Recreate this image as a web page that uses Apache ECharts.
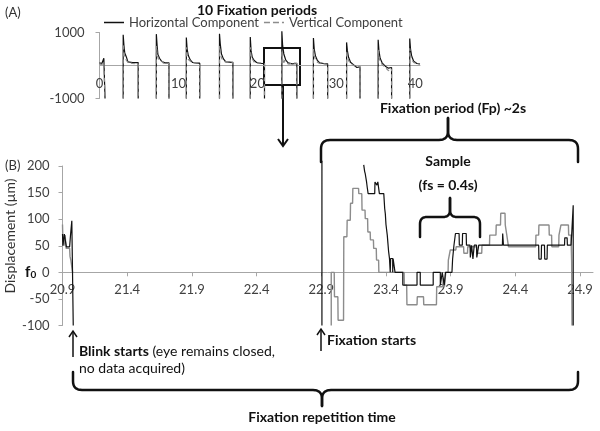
<!DOCTYPE html>
<html>
<head>
<meta charset="utf-8">
<script src="https://cdn.jsdelivr.net/npm/echarts@6/dist/echarts.min.js"></script>
<style>html,body{margin:0;padding:0;background:#fff}#c{width:600px;height:431px}</style>
</head>
<body>
<div id="c"></div>
<script>
// ---------- DATA ----------
var topXTicks = [0, 10, 20, 30, 40];
var topYTicks = [-1000, 1000];
var bottomXTicks = [20.9, 21.4, 21.9, 22.4, 22.9, 23.4, 23.9, 24.4, 24.9];
var bottomYTicks = [-100, -50, 0, 50, 100, 150, 200];
var seriesNames = ['Horizontal Component', 'Vertical Component'];

// Panel A: 10 fixation periods (null = no data acquired)
var topHorizontal = [
  [0, 80], [0.3, 60], [0.5, 70], [0.55, 220], [0.7, 220], [0.7, -1000], null,
  [3.0, -1000], [3.0, 930], [3.1, 600], [3.2, 380], [3.4, 260], [3.6, 110], [4.2, 90], [4.9, 90], [4.9, -1000], null,
  [7.2, -1000], [7.2, 950], [7.3, 600], [7.4, 330], [7.6, 220], [7.9, 120], [8.3, 80], [8.8, 80], [8.8, -1000], null,
  [11.0, -1000], [11.0, 850], [11.1, 500], [11.25, 300], [11.5, 170], [11.8, 90], [12.3, 70], [12.7, 70], [12.7, -1000], null,
  [15.2, -1000], [15.2, 960], [15.3, 650], [15.45, 350], [15.7, 200], [16.0, 110], [16.5, 100], [16.9, 90], [16.9, -1000], null,
  [19.1, -1000], [19.1, 860], [19.2, 450], [19.35, 250], [19.6, 150], [19.9, 90], [20.4, 60], [20.9, 60], [20.9, -1000], null,
  [23.1, -1000], [23.1, 1040], [23.2, 600], [23.35, 350], [23.6, 160], [23.9, 80], [24.4, 50], [25.0, 60], [25.0, -1000], null,
  [27.1, -1000], [27.1, 830], [27.2, 500], [27.35, 300], [27.6, 150], [27.9, 80], [28.4, 60], [28.9, 50], [28.9, -1000], null,
  [31.3, -1000], [31.3, 700], [31.4, 450], [31.55, 250], [31.8, 100], [32.2, 20], [32.6, -60], [33.0, -40], [33.0, -1000], null,
  [35.3, -1000], [35.3, 780], [35.4, 450], [35.55, 220], [35.8, 80], [36.2, -20], [36.6, -80], [37.0, -60], [37.0, -1000], null,
  [39.3, -1000], [39.3, 820], [39.4, 500], [39.55, 280], [39.8, 130], [40.2, 60], [40.6, 50]
];
var topVertical = [
  [0, 40], [0.3, 30], [0.45, 60], [0.55, 100], [0.7, 100], [0.7, -1000], null,
  [3.0, -1000], [3.0, 650], [3.1, 380], [3.2, 230], [3.3, 250], [3.45, 200], [3.6, 90], [4.2, 60], [4.9, 40], [4.9, -1000], null,
  [7.2, -1000], [7.2, 600], [7.3, 350], [7.45, 200], [7.6, 230], [7.8, 150], [8.1, 70], [8.8, 60], [8.8, -1000], null,
  [11.0, -1000], [11.0, 550], [11.1, 320], [11.25, 180], [11.5, 120], [11.8, 80], [12.3, 80], [12.7, 60], [12.7, -1000], null,
  [15.2, -1000], [15.2, 600], [15.3, 380], [15.45, 230], [15.7, 130], [16.0, 110], [16.5, 110], [16.9, 100], [16.9, -1000], null,
  [19.1, -1000], [19.1, 550], [19.2, 300], [19.4, 180], [19.6, 100], [20.0, 70], [20.5, 80], [20.9, 60], [20.9, -1000], null,
  [23.1, -1000], [23.1, 450], [23.2, 200], [23.3, 40], [23.45, 160], [23.65, 70], [24.0, 40], [24.5, 70], [25.0, 70], [25.0, -1000], null,
  [27.1, -1000], [27.1, 500], [27.2, 300], [27.35, 180], [27.6, 100], [27.9, 60], [28.4, 50], [28.9, 30], [28.9, -1000], null,
  [31.3, -1000], [31.3, 450], [31.4, 280], [31.55, 150], [31.8, 60], [32.2, 0], [32.6, -40], [33.0, -20], [33.0, -1000], null,
  [35.3, -1000], [35.3, 480], [35.4, 250], [35.55, 120], [35.8, 30], [36.2, -60], [36.6, -150], [36.9, -180], [37.0, -100], [37.0, -1000], null,
  [39.3, -1000], [39.3, 520], [39.4, 300], [39.55, 180], [39.8, 90], [40.2, 60], [40.6, 40]
];

// Panel B: one fixation period (displacement in µm)
var bottomHorizontal = [
  [20.900, 72], [20.903, 50], [20.912, 50], [20.914, 72], [20.928, 72], [20.930, 48], [20.955, 48], [20.962, 70], [20.972, 97], [20.981, 97], [20.983, -100], null,
  [22.905, 210], [22.905, -100], null,
  [23.228, 202], [23.235, 190], [23.240, 185], [23.250, 170], [23.255, 160], [23.262, 148], [23.313, 148], [23.315, 170], [23.328, 170], [23.330, 164], [23.335, 164], [23.337, 170], [23.347, 170], [23.349, 148], [23.383, 148],
  [23.390, 120], [23.395, 110], [23.400, 90], [23.410, 70], [23.415, 55], [23.420, 40], [23.427, 26], [23.433, 26], [23.433, 0], [23.436, 0], [23.436, 26], [23.452, 26], [23.452, 0], [23.455, 0], [23.455, 26], [23.470, 26], [23.470, 0],
  [23.530, 0], [23.530, -24], [23.640, -24], [23.640, 0], [23.665, 0], [23.665, -24], [23.765, -24], [23.765, 0], [23.820, 0], [23.820, -24], [23.835, -24], [23.835, 0], [23.850, 0], [23.850, -24], [23.860, -24], [23.860, 0], [23.910, 0],
  [23.915, 25], [23.925, 50], [23.935, 50], [23.937, 73], [23.965, 73], [23.967, 51], [23.990, 51], [23.992, 73], [24.020, 73], [24.022, 51], [24.050, 51], [24.052, 28], [24.060, 28], [24.062, 51], [24.070, 51], [24.072, 25], [24.080, 25], [24.082, 51], [24.100, 51], [24.102, 28], [24.115, 28], [24.117, 51],
  [24.300, 51], [24.302, 73], [24.306, 73], [24.308, 51], [24.580, 51], [24.582, 25], [24.600, 25], [24.602, 51], [24.625, 51], [24.627, 25], [24.645, 25], [24.647, 51], [24.780, 51], [24.782, 65], [24.800, 65], [24.802, 51], [24.830, 51], [24.835, 70], [24.845, 70], [24.847, 126], [24.847, -100]
];
var bottomVertical = [
  [20.900, 90], [20.902, 70], [20.910, 70], [20.912, 50], [20.918, 50], [20.920, 70], [20.926, 70], [20.928, 45], [20.955, 45], [20.958, 30], [20.965, 22], [20.972, 10], [20.978, 0], null,
  [22.977, -100], [22.977, 0], [23.000, 0], [23.002, -46], [23.028, -46], [23.030, -90], [23.072, -90], [23.074, 67], [23.098, 67], [23.100, 98], [23.124, 98], [23.126, 130], [23.142, 130], [23.144, 158], [23.188, 158], [23.190, 148], [23.213, 148], [23.215, 117], [23.238, 117], [23.240, 101], [23.258, 101], [23.260, 76], [23.278, 76], [23.280, 61], [23.303, 61], [23.305, 45], [23.325, 45], [23.327, 23], [23.343, 23], [23.345, 0],
  [23.540, 0], [23.542, -24], [23.560, -24], [23.562, -61], [23.640, -61], [23.642, -46], [23.690, -46], [23.692, -61], [23.790, -61], [23.792, -27], [23.840, -27], [23.842, -10], [23.850, -10], [23.852, -27], [23.860, -27], [23.862, 0], [23.880, 0], [23.882, 23], [23.895, 23], [23.897, 42], [23.940, 42], [23.942, 48],
  [24.000, 48], [24.002, 36], [24.030, 36], [24.032, 48], [24.100, 48], [24.102, 36], [24.140, 36], [24.142, 51], [24.200, 51], [24.202, 70], [24.250, 70], [24.252, 89], [24.285, 89], [24.287, 111], [24.320, 111], [24.322, 89], [24.330, 89], [24.332, 73], [24.345, 73], [24.347, 48],
  [24.557, 48], [24.559, 70], [24.580, 70], [24.582, 89], [24.660, 89], [24.662, 70], [24.680, 70], [24.682, 48], [24.735, 48], [24.737, 70], [24.750, 70], [24.752, 89], [24.810, 89], [24.812, 70], [24.830, 70], [24.835, 20], [24.838, -100]
];

// ---------- CHART ----------
function gaps(arr) { return arr.map(function (p) { return p === null ? [NaN, NaN] : p; }); }
var FONT = 'Lato, "Open Sans", sans-serif';
var AX = '#a6a6a6', LBL = '#404040';

function quad(p0, c, p1, n, out) {
  for (var i = 1; i <= n; i++) {
    var t = i / n, a = (1 - t) * (1 - t), b = 2 * (1 - t) * t, d = t * t;
    out.push([a * p0[0] + b * c[0] + d * p1[0], a * p0[1] + b * c[1] + d * p1[1]]);
  }
}
// horizontal curly brace; dir = +1 legs point down / cusp up, -1 legs up / cusp down
function brace(x1, x2, xc, yH, legLen, cuspLen, r, dir, w) {
  var els = [];
  [[x1, 1], [x2, -1]].forEach(function (side) {
    var xe = side[0], s = side[1];
    var pts = [[xe, yH + dir * legLen], [xe, yH + dir * r]];
    quad([xe, yH + dir * r], [xe, yH], [xe + s * r, yH], 8, pts);
    pts.push([xc - s * r, yH]);
    quad([xc - s * r, yH], [xc, yH], [xc, yH - dir * r], 8, pts);
    pts.push([xc, yH - dir * cuspLen]);
    els.push({ type: 'polyline', silent: true, shape: { points: pts },
      style: { stroke: '#111', lineWidth: w, fill: null, lineJoin: 'round', lineCap: 'round' } });
  });
  return els;
}
function txt(id, x, y, s, opt) {
  opt = opt || {};
  return { type: 'text', id: id, x: x, y: y, rotation: opt.rotation || 0, silent: true, z: 10,
    style: { text: s, fill: opt.color || '#111', font: (opt.bold ? 'bold ' : '') + (opt.size || 14) + 'px ' + FONT,
      align: opt.align || 'left', verticalAlign: 'middle', rich: opt.rich } };
}
function seg(x1, y1, x2, y2, w) {
  return { type: 'line', silent: true, shape: { x1: x1, y1: y1, x2: x2, y2: y2 }, style: { stroke: '#111', lineWidth: w || 1.5 } };
}
function chevron(pts, w) {
  return { type: 'polyline', silent: true, shape: { points: pts }, style: { stroke: '#111', lineWidth: w || 1.5, fill: null } };
}

var graphics = [
  txt('tA', 5, 13, '(A)', { size: 13, color: '#333' }),
  txt('tTitle', 257, 10, '10 Fixation periods', { bold: true, size: 14, align: 'center' }),
  { type: 'rect', silent: true, shape: { x: 264, y: 48, width: 36, height: 37 }, style: { stroke: '#111', lineWidth: 2, fill: null } },
  seg(283, 85, 283, 145, 2),
  chevron([[278, 139], [283, 146], [288, 139]], 2),
  txt('tB', 5, 166, '(B)', { size: 13, color: '#333' }),
  txt('tYName', 10, 236, 'Displacement (µm)', { size: 14, color: '#333', align: 'center', rotation: Math.PI / 2 }),
  txt('tF0', 25, 272, '{f|f}{s|0}', { rich: { f: { font: 'bold 15px ' + FONT, fill: '#111' }, s: { font: 'bold 10px ' + FONT, fill: '#111', padding: [6, 0, 0, 0] } } }),
  txt('tFp', 453, 108, 'Fixation period (Fp) ~2s', { bold: true, size: 14, align: 'center' }),
  txt('tSample', 448, 161, 'Sample', { bold: true, size: 14, align: 'center' }),
  txt('tFs', 448, 185, '(fs = 0.4s)', { bold: true, size: 14, align: 'center' }),
  seg(73, 357, 73, 331, 1.5),
  chevron([[69, 337], [73, 331], [77, 337]], 1.5),
  txt('tBlink', 79, 351, '{b|Blink starts} (eye remains closed,', { size: 14, rich: { b: { font: 'bold 14px ' + FONT, fill: '#111' } } }),
  txt('tNoData', 79, 368, 'no data acquired)', { size: 14 }),
  seg(321, 351, 321, 329, 1.5),
  chevron([[317, 335], [321, 329], [325, 335]], 1.5),
  txt('tFixStart', 327, 340, 'Fixation starts', { bold: true, size: 14 }),
  txt('tRep', 322, 417, 'Fixation repetition time', { bold: true, size: 14, align: 'center' })
].concat(
  brace(321, 578, 448, 140, 22, 22, 9, 1, 2.5),
  brace(420, 480, 450, 217, 20, 19, 7, 1, 2.5),
  brace(73, 578, 322, 390, 18, 16, 9, -1, 2.5)
);

var chart = echarts.init(document.getElementById('c'), null, { renderer: 'canvas' });
chart.setOption({
  animation: false,
  textStyle: { fontFamily: FONT },
  legend: {
    data: [
      { name: seriesNames[0], icon: 'path://M0 0H20V1.5H0Z' },
      { name: seriesNames[1], icon: 'path://M0 0H6V1.5H0Z M9 0H15V1.5H9Z M18 0H20V1.5H18Z' }
    ],
    left: 104, top: 16, itemWidth: 20, itemHeight: 2, itemGap: 5,
    textStyle: { fontSize: 13, color: LBL, fontFamily: FONT }, padding: 0
  },
  grid: [
    { left: 99.5, top: 32.5, width: 320.5, height: 66 },
    { left: 62.5, top: 166, width: 530.5, height: 159.5 }
  ],
  xAxis: [
    { gridIndex: 0, type: 'value', min: 0, max: 40.6, position: 'bottom', offset: -33,
      axisLine: { onZero: false, lineStyle: { color: AX, width: 1 } },
      axisTick: { show: false },
      axisLabel: { customValues: topXTicks, margin: 12, fontSize: 13, color: LBL, fontFamily: FONT },
      splitLine: { show: false } },
    { gridIndex: 1, type: 'value', min: 20.9, max: 25.0, position: 'bottom', offset: -53.2,
      axisLine: { onZero: false, lineStyle: { color: AX, width: 1 } },
      axisTick: { show: true, customValues: bottomXTicks, length: 4, lineStyle: { color: AX } },
      axisLabel: { customValues: bottomXTicks, margin: 11, fontSize: 13, color: LBL, fontFamily: FONT,
        formatter: function (v) { return v.toFixed(1); } },
      splitLine: { show: false } }
  ],
  yAxis: [
    { gridIndex: 0, type: 'value', min: -1000, max: 1000,
      axisLine: { show: true, lineStyle: { color: AX } },
      axisTick: { show: true, customValues: topYTicks, length: 4, lineStyle: { color: AX } },
      axisLabel: { customValues: topYTicks, margin: 15, fontSize: 13, color: LBL, fontFamily: FONT,
        formatter: function (v) { return String(v); } },
      splitLine: { show: false } },
    { gridIndex: 1, type: 'value', min: -100, max: 200, interval: 50,
      axisLine: { show: true, lineStyle: { color: AX } },
      axisTick: { show: true, length: 4, lineStyle: { color: AX } },
      axisLabel: { margin: 13, fontSize: 13, color: LBL, fontFamily: FONT },
      splitLine: { show: false } }
  ],
  series: [
    { name: seriesNames[0], type: 'line', xAxisIndex: 0, yAxisIndex: 0, data: gaps(topHorizontal), symbol: 'none', clip: false,
      lineStyle: { color: '#111', width: 1.2 }, itemStyle: { color: '#111' } },
    { name: seriesNames[1], type: 'line', xAxisIndex: 0, yAxisIndex: 0, data: gaps(topVertical), symbol: 'none', clip: false,
      lineStyle: { color: '#8c8c8c', width: 1.2, type: [4, 3] }, itemStyle: { color: '#8c8c8c' } },
    { name: seriesNames[1], type: 'line', xAxisIndex: 1, yAxisIndex: 1, data: gaps(bottomVertical), symbol: 'none', clip: false,
      lineStyle: { color: '#8c8c8c', width: 1.4 }, itemStyle: { color: '#8c8c8c' } },
    { name: seriesNames[0], type: 'line', xAxisIndex: 1, yAxisIndex: 1, data: gaps(bottomHorizontal), symbol: 'none', clip: false,
      lineStyle: { color: '#111', width: 1.2 }, itemStyle: { color: '#111' } }
  ],
  graphic: graphics
});
</script>
</body>
</html>
